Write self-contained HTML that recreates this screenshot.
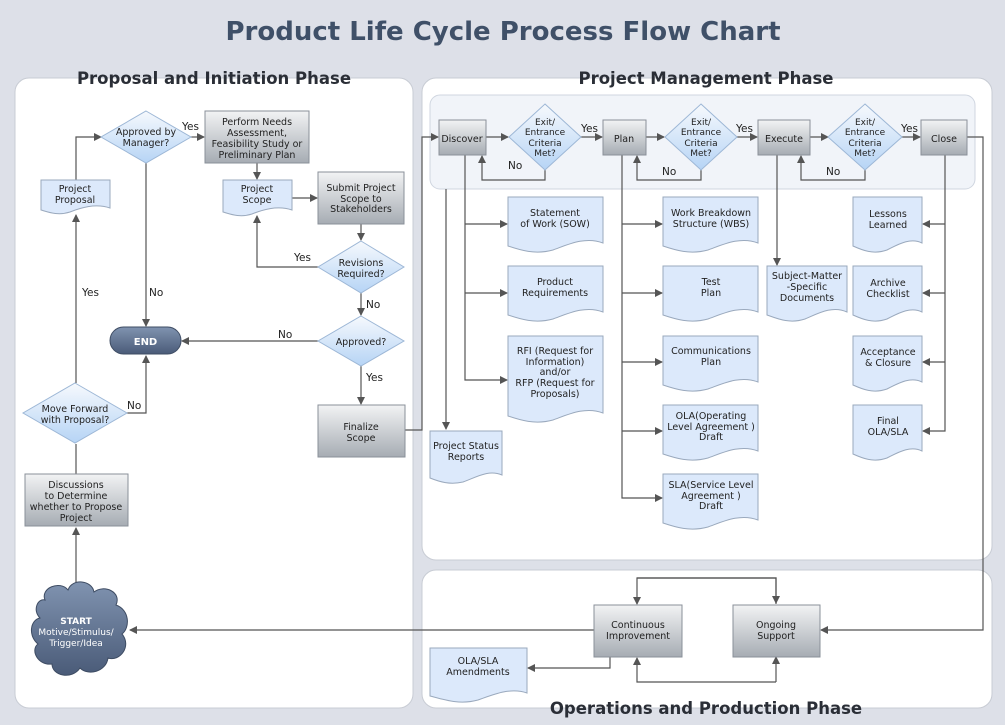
<!DOCTYPE html>
<html><head><meta charset="utf-8"><style>
html,body{margin:0;padding:0;background:#dde0e8;}
svg{display:block;font-family:"DejaVu Sans","Liberation Sans",sans-serif;}
</style></head><body>
<svg width="1005" height="725" viewBox="0 0 1005 725" xmlns="http://www.w3.org/2000/svg">
<defs>
<linearGradient id="gb" x1="0" y1="0" x2="0" y2="1"><stop offset="0" stop-color="#f2f3f4"/><stop offset="1" stop-color="#a6acb3"/></linearGradient>
<linearGradient id="gd" x1="0" y1="0" x2="0" y2="1"><stop offset="0" stop-color="#f6f9fd"/><stop offset="1" stop-color="#b6d4f5"/></linearGradient>
<linearGradient id="ge" x1="0" y1="0" x2="0" y2="1"><stop offset="0" stop-color="#8093b0"/><stop offset="1" stop-color="#4a5b78"/></linearGradient>
<marker id="a" markerWidth="8" markerHeight="8" refX="7" refY="4" orient="auto" markerUnits="userSpaceOnUse"><path d="M0,0 L8,4 L0,8 Z" fill="#555"/></marker>
</defs>
<rect width="1005" height="725" fill="#dde0e8"/>
<text x="503" y="40" text-anchor="middle" font-size="26" font-weight="bold" fill="#3f5068" font-family="DejaVu Sans, sans-serif">Product Life Cycle Process Flow Chart</text>
<rect x="15" y="78" width="398" height="630" rx="14" fill="#fff" stroke="#c8ccd4"/>
<rect x="422" y="78" width="570" height="482" rx="14" fill="#fff" stroke="#c8ccd4"/>
<rect x="422" y="570" width="570" height="138" rx="14" fill="#fff" stroke="#c8ccd4"/>
<rect x="430" y="95" width="545" height="94" rx="10" fill="#f1f4f9" stroke="#d0d6e0"/>
<g font-family="DejaVu Sans, sans-serif" font-weight="bold" font-size="16.5" fill="#2a2e36" text-anchor="middle">
<text x="214" y="84">Proposal and Initiation Phase</text>
<text x="706" y="84">Project Management Phase</text>
<text x="706" y="714">Operations and Production Phase</text>
</g>
<g stroke="#555" stroke-width="1.2" fill="none">
<path d="M76,585 V528" marker-end="url(#a)"/>
<path d="M76,474 V444"/>
<path d="M76,383 V215" marker-end="url(#a)"/>
<path d="M76,180 V137 H101" marker-end="url(#a)"/>
<path d="M191,137 H204" marker-end="url(#a)"/>
<path d="M146,163 V326" marker-end="url(#a)"/>
<path d="M127,413 H146 V356" marker-end="url(#a)"/>
<path d="M257,163 V179" marker-end="url(#a)"/>
<path d="M292,198 H317" marker-end="url(#a)"/>
<path d="M361,224 V240" marker-end="url(#a)"/>
<path d="M318,267 H257 V216" marker-end="url(#a)"/>
<path d="M361,293 V315" marker-end="url(#a)"/>
<path d="M318,341 H182" marker-end="url(#a)"/>
<path d="M361,366 V404" marker-end="url(#a)"/>
<path d="M405,430 H422 V137 H438" marker-end="url(#a)"/>
<path d="M486,137 H508" marker-end="url(#a)"/>
<path d="M581,137 H602" marker-end="url(#a)"/>
<path d="M545,170 V180 H482 V156" marker-end="url(#a)"/>
<path d="M646,137 H664" marker-end="url(#a)"/>
<path d="M737,137 H757" marker-end="url(#a)"/>
<path d="M701,170 V180 H637 V156" marker-end="url(#a)"/>
<path d="M810,137 H828" marker-end="url(#a)"/>
<path d="M902,137 H920" marker-end="url(#a)"/>
<path d="M865,170 V180 H801 V156" marker-end="url(#a)"/>
<path d="M465,155 V380 H507" marker-end="url(#a)"/>
<path d="M465,224 H507" marker-end="url(#a)"/>
<path d="M465,293 H507" marker-end="url(#a)"/>
<path d="M446,189 V429" marker-end="url(#a)"/>
<path d="M622,155 V498 H662" marker-end="url(#a)"/>
<path d="M622,224 H662" marker-end="url(#a)"/>
<path d="M622,293 H662" marker-end="url(#a)"/>
<path d="M622,362 H662" marker-end="url(#a)"/>
<path d="M622,431 H662" marker-end="url(#a)"/>
<path d="M777,155 V265" marker-end="url(#a)"/>
<path d="M945,155 V431 H923" marker-end="url(#a)"/>
<path d="M945,224 H923" marker-end="url(#a)"/>
<path d="M945,293 H923" marker-end="url(#a)"/>
<path d="M945,362 H923" marker-end="url(#a)"/>
<path d="M967,137 H983 V630 H821" marker-end="url(#a)"/>
<path d="M594,630 H130" marker-end="url(#a)"/>
<path d="M610,657 V668 H528" marker-end="url(#a)"/>
<path d="M776,604 V578 H637 V604" marker-end="url(#a)"/>
<path d="M637,578 H776 V603" marker-end="url(#a)"/>
<path d="M776,682 V657" marker-end="url(#a)"/>
<path d="M776,682 H637 V658" marker-end="url(#a)"/>
</g>
<g stroke="#8a9099" fill="url(#gb)">
<rect x="205" y="111" width="104" height="52"/>
<rect x="318" y="172" width="86" height="52"/>
<rect x="318" y="405" width="87" height="52"/>
<rect x="25" y="474" width="103" height="52"/>
<rect x="439" y="120" width="47" height="35"/>
<rect x="603" y="120" width="43" height="35"/>
<rect x="758" y="120" width="52" height="35"/>
<rect x="921" y="120" width="46" height="35"/>
<rect x="594" y="605" width="88" height="52"/>
<rect x="733" y="605" width="87" height="52"/>
</g>
<g stroke="#9db7d6" fill="url(#gd)">
<path d="M146,111 L191,137 L146,163 L101,137 Z"/>
<path d="M361,241 L404,267 L361,293 L318,267 Z"/>
<path d="M361,316 L404,341 L361,366 L318,341 Z"/>
<path d="M75,383 L127,413 L75,443 L23,413 Z"/>
<path d="M545,104 L581,137 L545,170 L509,137 Z"/>
<path d="M701,104 L737,137 L701,170 L665,137 Z"/>
<path d="M865,104 L902,137 L865,170 L828,137 Z"/>
</g>
<g stroke="#9aa9bd" fill="#dce9fb">
<path d="M41,180 H110 V208 C95,203 80,208 70,212 C58,216 48,212 41,210 Z"/>
<path d="M223,180 H292 V210 C277,205 262,210 252,214 C240,218 230,214 223,212 Z"/>
<path d="M508,197 H603 V243 C585,236 567,245 553,250 C535,255 520,250 508,246 Z"/>
<path d="M508,266 H603 V312 C585,305 567,314 553,319 C535,324 520,319 508,315 Z"/>
<path d="M508,336 H603 V413 C585,406 567,415 553,420 C535,425 520,420 508,416 Z"/>
<path d="M430,431 H502 V475 C488,469 475,478 463,482 C450,485 440,482 430,478 Z"/>
<path d="M663,197 H758 V243 C740,236 722,245 708,250 C690,255 675,250 663,246 Z"/>
<path d="M663,266 H758 V312 C740,305 722,314 708,319 C690,324 675,319 663,315 Z"/>
<path d="M663,336 H758 V382 C740,375 722,384 708,389 C690,394 675,389 663,385 Z"/>
<path d="M663,405 H758 V451 C740,444 722,453 708,458 C690,463 675,458 663,454 Z"/>
<path d="M663,474 H758 V520 C740,513 722,522 708,527 C690,532 675,527 663,523 Z"/>
<path d="M767,266 H847 V312 C832,305 817,314 805,319 C790,324 778,319 767,315 Z"/>
<path d="M853,197 H922 V243 C910,237 897,245 887,250 C873,255 862,250 853,246 Z"/>
<path d="M853,266 H922 V312 C910,306 897,314 887,319 C873,324 862,319 853,315 Z"/>
<path d="M853,336 H922 V382 C910,376 897,384 887,389 C873,394 862,389 853,385 Z"/>
<path d="M853,405 H922 V451 C910,445 897,453 887,458 C873,463 862,458 853,454 Z"/>
<path d="M430,648 H527 V693 C510,687 492,695 478,700 C460,705 445,700 430,696 Z"/>
</g>
<rect x="110" y="327" width="71" height="27" rx="13.5" fill="url(#ge)" stroke="#3e4c63"/>
<text x="145.5" y="345" text-anchor="middle" font-size="10" font-weight="bold" fill="#fff">END</text>
<g fill="url(#ge)" stroke="#3e4c63">
<path d="M45,600 C40,588 60,580 68,590 C72,578 92,580 94,592 C104,584 122,592 116,605 C130,610 130,628 122,634 C132,646 120,662 108,658 C106,672 88,676 80,668 C72,680 52,676 52,664 C38,666 30,650 38,644 C28,636 30,620 40,618 C32,610 38,598 45,600 Z"/>
</g>
<g font-size="9" fill="#fff" text-anchor="middle">
<text x="76" y="624" font-weight="bold">START</text>
<text x="76" y="635">Motive/Stimulus/</text>
<text x="76" y="646">Trigger/Idea</text>
</g>
<g font-size="9.5" fill="#222" text-anchor="middle">
<text x="146" y="135">Approved by</text><text x="146" y="146">Manager?</text>
<text x="257" y="125">Perform Needs</text><text x="257" y="136">Assessment,</text><text x="257" y="147">Feasibility Study or</text><text x="257" y="158">Preliminary Plan</text>
<text x="75" y="192">Project</text><text x="75" y="203">Proposal</text>
<text x="257" y="192">Project</text><text x="257" y="203">Scope</text>
<text x="361" y="191">Submit Project</text><text x="361" y="202">Scope to</text><text x="361" y="212">Stakeholders</text>
<text x="361" y="266">Revisions</text><text x="361" y="277">Required?</text>
<text x="361" y="345">Approved?</text>
<text x="75" y="412">Move Forward</text><text x="75" y="423">with Proposal?</text>
<text x="361" y="430">Finalize</text><text x="361" y="441">Scope</text>
<text x="76" y="488">Discussions</text><text x="76" y="499">to Determine</text><text x="76" y="510">whether to Propose</text><text x="76" y="521">Project</text>
<text x="462" y="142">Discover</text>
<text x="624" y="142">Plan</text>
<text x="784" y="142">Execute</text>
<text x="944" y="142">Close</text>
<g font-size="9"><text x="545" y="125">Exit/</text><text x="545" y="135">Entrance</text><text x="545" y="146">Criteria</text><text x="545" y="156">Met?</text>
<text x="701" y="125">Exit/</text><text x="701" y="135">Entrance</text><text x="701" y="146">Criteria</text><text x="701" y="156">Met?</text>
<text x="865" y="125">Exit/</text><text x="865" y="135">Entrance</text><text x="865" y="146">Criteria</text><text x="865" y="156">Met?</text></g>
<text x="555" y="216">Statement</text><text x="555" y="227">of Work (SOW)</text>
<text x="555" y="285">Product</text><text x="555" y="296">Requirements</text>
<text x="555" y="354">RFI (Request for</text><text x="555" y="365">Information)</text><text x="555" y="375">and/or</text><text x="555" y="386">RFP (Request for</text><text x="555" y="397">Proposals)</text>
<text x="466" y="449">Project Status</text><text x="466" y="460">Reports</text>
<text x="711" y="216">Work Breakdown</text><text x="711" y="227">Structure (WBS)</text>
<text x="711" y="285">Test</text><text x="711" y="296">Plan</text>
<text x="711" y="354">Communications</text><text x="711" y="365">Plan</text>
<text x="711" y="419">OLA(Operating</text><text x="711" y="430">Level Agreement )</text><text x="711" y="440">Draft</text>
<text x="711" y="488">SLA(Service Level</text><text x="711" y="499">Agreement )</text><text x="711" y="509">Draft</text>
<text x="807" y="279">Subject-Matter</text><text x="807" y="290">-Specific</text><text x="807" y="301">Documents</text>
<text x="888" y="217">Lessons</text><text x="888" y="228">Learned</text>
<text x="888" y="286">Archive</text><text x="888" y="297">Checklist</text>
<text x="888" y="355">Acceptance</text><text x="888" y="366">&amp; Closure</text>
<text x="888" y="424">Final</text><text x="888" y="435">OLA/SLA</text>
<text x="638" y="628">Continuous</text><text x="638" y="639">Improvement</text>
<text x="776" y="628">Ongoing</text><text x="776" y="639">Support</text>
<text x="478" y="664">OLA/SLA</text><text x="478" y="675">Amendments</text>
</g>
<g font-size="10.5" fill="#222">
<text x="182" y="130">Yes</text>
<text x="149" y="296">No</text>
<text x="82" y="296">Yes</text>
<text x="127" y="409">No</text>
<text x="294" y="261">Yes</text>
<text x="366" y="308">No</text>
<text x="278" y="338">No</text>
<text x="366" y="381">Yes</text>
<text x="581" y="132">Yes</text>
<text x="508" y="169">No</text>
<text x="736" y="132">Yes</text>
<text x="662" y="175">No</text>
<text x="901" y="132">Yes</text>
<text x="826" y="175">No</text>
</g>
</svg>
</body></html>
